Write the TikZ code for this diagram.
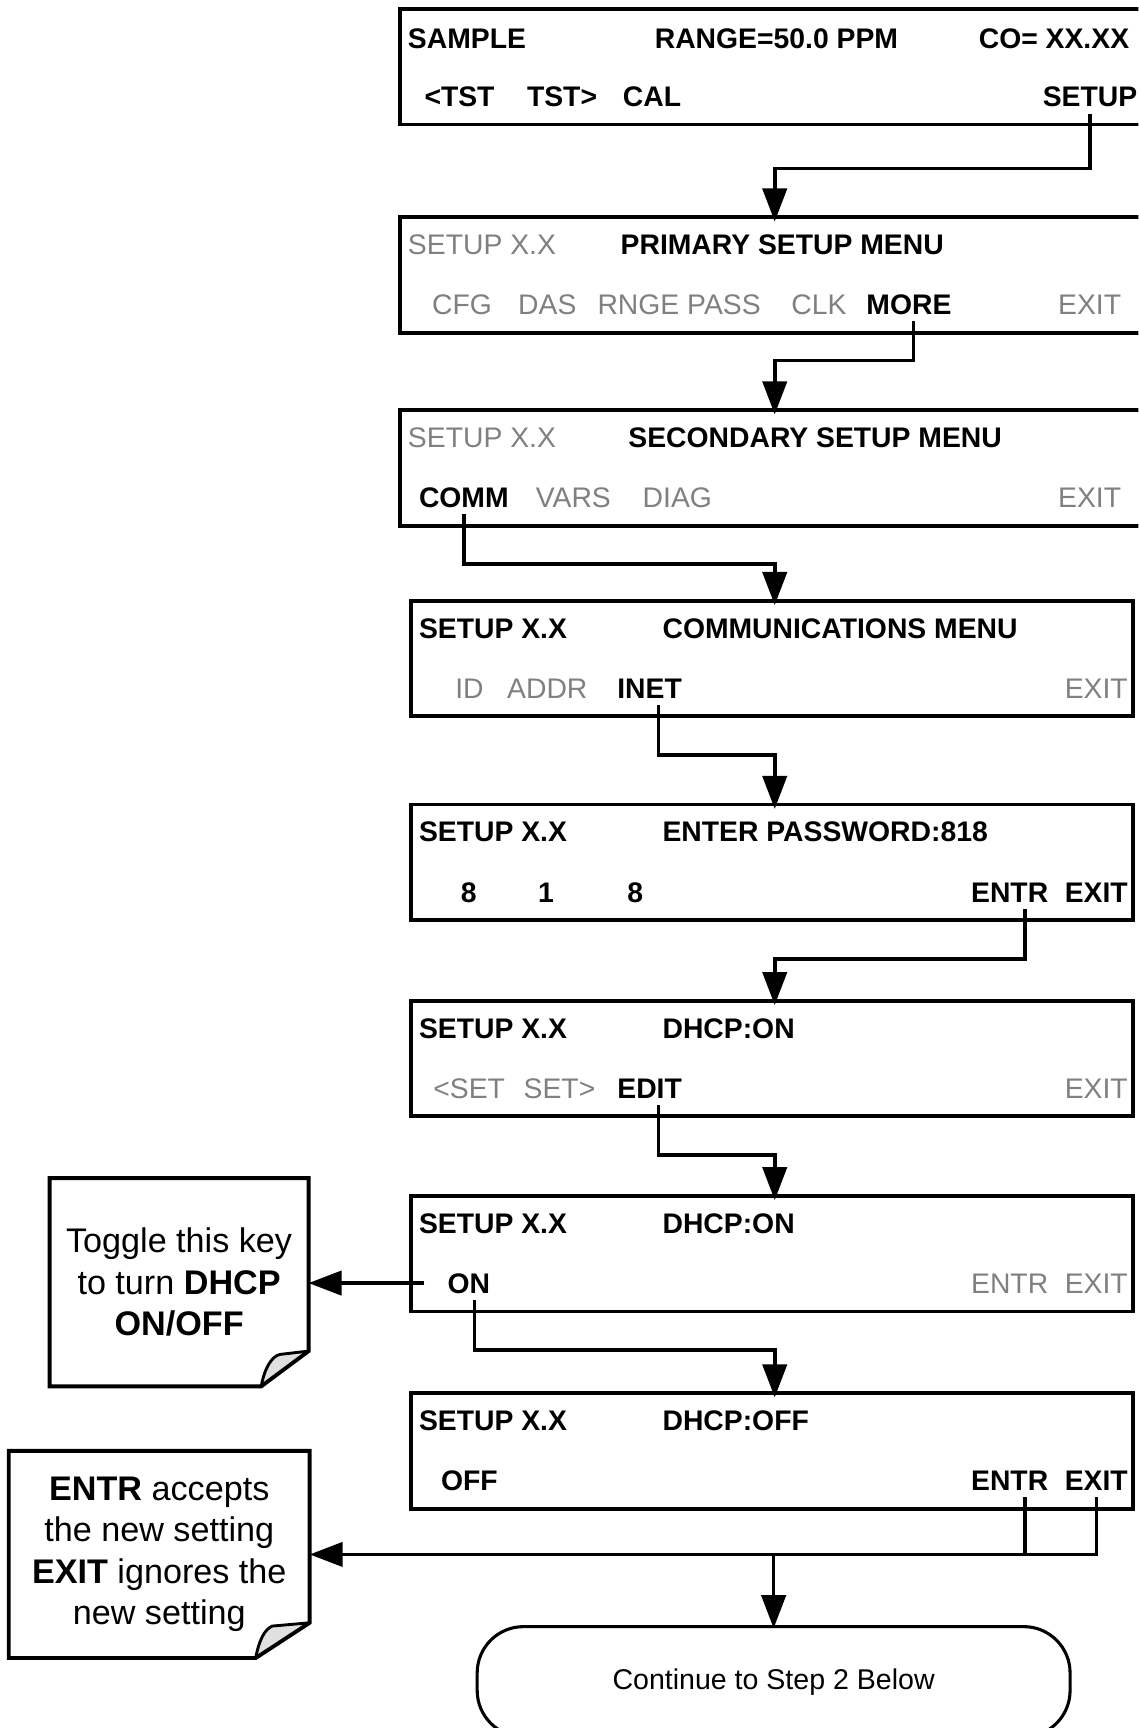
\documentclass[tikz,border=0pt]{standalone}
\usepackage{fontspec}
\setmainfont{Liberation Sans}
\usetikzlibrary{arrows.meta}
\definecolor{keygray}{RGB}{128,128,128}
\definecolor{flapgray}{RGB}{224,224,224}
\newcommand\keyfont{\fontsize{25.7pt}{30pt}\selectfont}
\newcommand\notefont{\fontsize{31pt}{37.5pt}\selectfont}
\newcommand\ovalfont{\fontsize{25.9pt}{30pt}\selectfont}

\begin{document}
\begin{tikzpicture}[x=1pt,y=-1pt,
  panel/.style={draw, line width=3.5pt, rectangle, anchor=north west, inner sep=0pt, outer sep=0pt, minimum height=105pt},
  widepanel/.style={panel, minimum width=680pt},
  narrowpanel/.style={panel, minimum width=655pt},
  key/.style={anchor=base west, inner xsep=0pt, inner ysep=6pt, text height=18.5pt, text depth=0pt, font=\keyfont},
  hot/.style={key, font=\keyfont\bfseries, text=black},
  dim/.style={key, text=keygray},
  conn/.style={line width=3.2pt, line join=miter, -{Triangle[length=30pt,width=22pt]}},
  into/.style={conn, shorten >=-4pt},
  wire/.style={line width=3.2pt},
  note/.style={inner sep=0pt, outer sep=0pt, align=center, font=\notefont},
  noteline/.style={line width=3.5pt, line join=miter},
  curl/.style={line width=2.6pt, line join=miter},
  terminal/.style={draw, line width=2.8pt, rounded corners=42pt, inner sep=0pt, outer sep=0pt, font=\ovalfont}
]
\useasboundingbox (0,0) rectangle (1033,1568);
\fill[white] (0,0) rectangle (1033,1568);
\clip (0,0) rectangle (1033,1568);

% ---------- display panels ----------
\node[widepanel]   (p1) at (363,8)    {};
\node[widepanel]   (p2) at (363,197)  {};
\node[widepanel]   (p3) at (363,372)  {};
\node[narrowpanel] (p4) at (373,545)  {};
\node[narrowpanel] (p5) at (373,730)  {};
\node[narrowpanel] (p6) at (373,908)  {};
\node[narrowpanel] (p7) at (373,1085) {};
\node[narrowpanel] (p8) at (373,1264) {};

% panel 1
\node[hot] (p1title) at (370,44) {SAMPLE};
\node[hot] (p1range) at (594,44) {RANGE=50.0 PPM};
\node[hot] (p1conc)  at (888,44) {CO= XX.XX};
\node[hot] (p1tstl)  at (385,97) {<TST};
\node[hot] (p1tstr)  at (478,97) {TST>};
\node[hot] (p1cal)   at (565,97) {CAL};
\node[hot] (p1setup) at (946,97) {SETUP};

% panel 2
\node[dim] (p2title) at (370,231)   {SETUP X.X};
\node[hot] (p2head)  at (563,231)   {PRIMARY SETUP MENU};
\node[dim] (p2cfg)   at (392,285.5) {CFG};
\node[dim] (p2das)   at (470,285.5) {DAS};
\node[dim] (p2rnge)  at (542,285.5) {RNGE PASS};
\node[dim] (p2clk)   at (718,285.5) {CLK};
\node[hot] (p2more)  at (786,285.5) {MORE};
\node[dim] (p2exit)  at (960,285.5) {EXIT};

% panel 3
\node[dim] (p3title) at (370,406)   {SETUP X.X};
\node[hot] (p3head)  at (570,406)   {SECONDARY SETUP MENU};
\node[hot] (p3comm)  at (380,460.5) {COMM};
\node[dim] (p3vars)  at (486,460.5) {VARS};
\node[dim] (p3diag)  at (583,460.5) {DIAG};
\node[dim] (p3exit)  at (960,460.5) {EXIT};

% panel 4
\node[hot] (p4title) at (380,579)   {SETUP X.X};
\node[hot] (p4head)  at (601,579)   {COMMUNICATIONS MENU};
\node[dim] (p4id)    at (413,633.5) {ID};
\node[dim] (p4addr)  at (460,633.5) {ADDR};
\node[hot] (p4inet)  at (560,633.5) {INET};
\node[dim] (p4exit)  at (966,633.5) {EXIT};

% panel 5
\node[hot] (p5title) at (380,764)   {SETUP X.X};
\node[hot] (p5head)  at (601,764)   {ENTER PASSWORD:818};
\node[hot] (p5da)    at (418,818.5) {8};
\node[hot] (p5db)    at (488,818.5) {1};
\node[hot] (p5dc)    at (569,818.5) {8};
\node[hot] (p5entr)  at (881,818.5) {ENTR};
\node[hot] (p5exit)  at (966,818.5) {EXIT};

% panel 6
\node[hot] (p6title) at (380,942)   {SETUP X.X};
\node[hot] (p6head)  at (601,942)   {DHCP:ON};
\node[dim] (p6setl)  at (393,996.5) {<SET};
\node[dim] (p6setr)  at (475,996.5) {SET>};
\node[hot] (p6edit)  at (560,996.5) {EDIT};
\node[dim] (p6exit)  at (966,996.5) {EXIT};

% panel 7
\node[hot] (p7title) at (380,1119)   {SETUP X.X};
\node[hot] (p7head)  at (601,1119)   {DHCP:ON};
\node[hot] (p7on)    at (406,1173.5) {ON};
\node[dim] (p7entr)  at (881,1173.5) {ENTR};
\node[dim] (p7exit)  at (966,1173.5) {EXIT};

% panel 8
\node[hot] (p8title) at (380,1298)   {SETUP X.X};
\node[hot] (p8head)  at (601,1298)   {DHCP:OFF};
\node[hot] (p8off)   at (400,1352.5) {OFF};
\node[hot] (p8entr)  at (881,1352.5) {ENTR};
\node[hot] (p8exit)  at (966,1352.5) {EXIT};

% ---------- notes ----------
\node[note, minimum width=235pt, minimum height=189pt] (n1) at (162.5,1163.5)
  {Toggle this key\\to turn \textbf{DHCP}\\\textbf{ON/OFF}};
\node[note, minimum width=273pt, minimum height=188pt] (n2) at (144.5,1410.5)
  {\textbf{ENTR} accepts\\the new setting\\\textbf{EXIT} ignores the\\new setting};

% note 1 outline with curled corner
\fill[flapgray] ([xshift=-43pt]n1.south east)
  .. controls ([xshift=-40pt,yshift=16pt]n1.south east) and ([xshift=-34pt,yshift=27pt]n1.south east)
  .. ([xshift=-26pt,yshift=29pt]n1.south east) -- ([yshift=32pt]n1.south east) -- cycle;
\draw[noteline] (n1.north west) -- (n1.north east) -- ([yshift=32pt]n1.south east)
  -- ([xshift=-43pt]n1.south east) -- (n1.south west) -- cycle;
\draw[curl] ([xshift=-43pt]n1.south east)
  .. controls ([xshift=-40pt,yshift=16pt]n1.south east) and ([xshift=-34pt,yshift=27pt]n1.south east)
  .. ([xshift=-26pt,yshift=29pt]n1.south east) -- ([yshift=32pt]n1.south east);

% note 2 outline with curled corner
\fill[flapgray] ([xshift=-49pt]n2.south east)
  .. controls ([xshift=-46pt,yshift=16pt]n2.south east) and ([xshift=-41pt,yshift=26pt]n2.south east)
  .. ([xshift=-34pt,yshift=29pt]n2.south east) -- ([yshift=32pt]n2.south east) -- cycle;
\draw[noteline] (n2.north west) -- (n2.north east) -- ([yshift=32pt]n2.south east)
  -- ([xshift=-49pt]n2.south east) -- (n2.south west) -- cycle;
\draw[curl] ([xshift=-49pt]n2.south east)
  .. controls ([xshift=-46pt,yshift=16pt]n2.south east) and ([xshift=-41pt,yshift=26pt]n2.south east)
  .. ([xshift=-34pt,yshift=29pt]n2.south east) -- ([yshift=32pt]n2.south east);

% ---------- terminal ----------
\node[terminal, minimum width=538pt, minimum height=100pt] (cont) at (702,1526)
  {Continue to Step 2 Below};

% ---------- connectors ----------
\coordinate (j1) at (703,153);
\coordinate (j2) at (703,327);
\coordinate (j3) at (703,512);
\coordinate (j4) at (703,685);
\coordinate (j5) at (703,870);
\coordinate (j6) at (703,1048);
\coordinate (j7) at (703,1225);

\draw[into] (p1setup.south) |- (j1) -- (j1 |- p2.north);
\draw[into] ([xshift=4pt]p2more.south) |- (j2) -- (j2 |- p3.north);
\draw[into] (p3comm.south) |- (j3) -- (j3 |- p4.north);
\draw[into] ([xshift=8pt]p4inet.south) |- (j4) -- (j4 |- p5.north);
\draw[into] ([xshift=14pt]p5entr.south) |- (j5) -- (j5 |- p6.north);
\draw[into] ([xshift=8pt]p6edit.south) |- (j6) -- (j6 |- p7.north);
\draw[into] ([xshift=5pt]p7on.south) |- (j7) -- (j7 |- p8.north);

% ON key explained by note 1
\coordinate (t7) at ([xshift=-21pt]p7on.west);
\draw[conn] (t7) -- (t7 -| n1.east);

% ENTR / EXIT lead to note 2 and onward
\coordinate (e8) at ([xshift=14pt]p8entr.south);
\draw[wire] (e8) -- (e8 |- n2.east);
\draw[conn] (p8exit.south) |- (n2.east);
\draw[conn, shorten >=-1.5pt] (cont.north |- n2.east) -- (cont.north);
\end{tikzpicture}
\end{document}
